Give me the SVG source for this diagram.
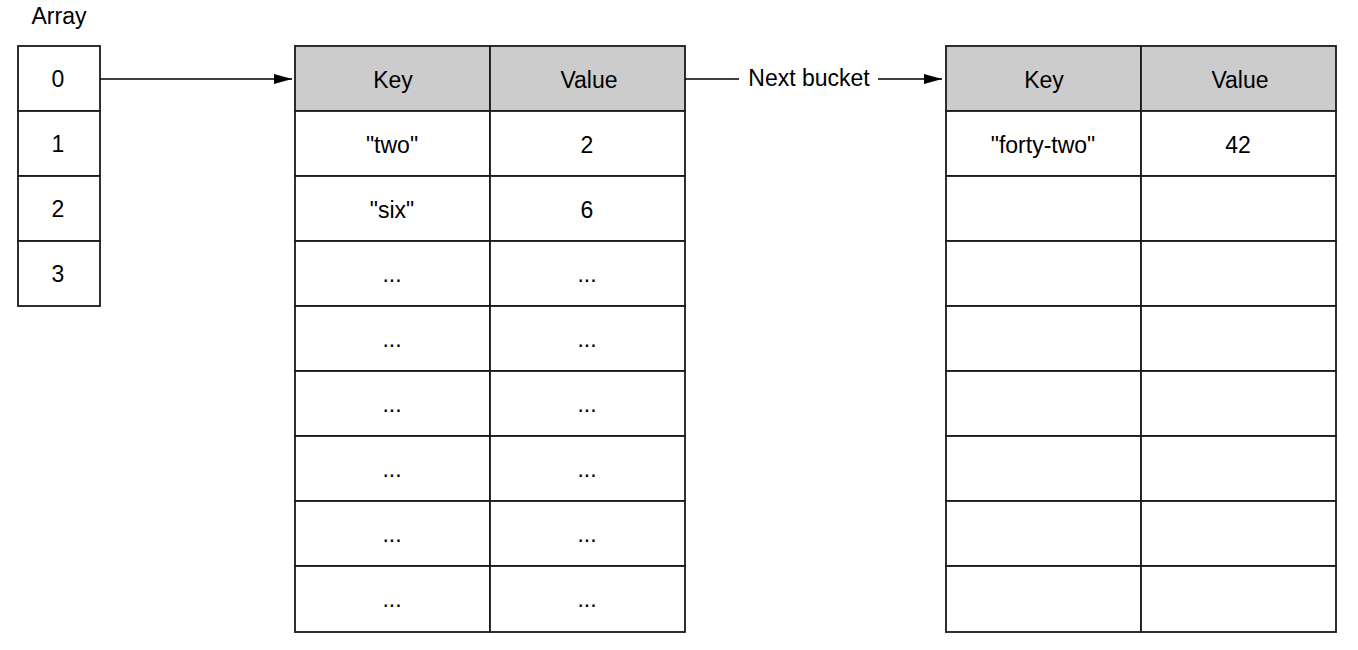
<svg xmlns="http://www.w3.org/2000/svg" width="1358" height="650" viewBox="0 0 1358 650">
<style>
.cell{fill:#ffffff;stroke:#1a1a1a;stroke-width:1.8}
.head{fill:#cccccc;stroke:#1a1a1a;stroke-width:1.8}
text{font-family:"Liberation Sans",Arial,sans-serif;font-size:23px;fill:#000;text-anchor:middle}
.conn{stroke:#000;stroke-width:1.4;fill:none}
</style>
<defs>
<marker id="ah" markerWidth="18" markerHeight="10" refX="18" refY="5" orient="auto" markerUnits="userSpaceOnUse">
<path d="M0,0 L18,5 L0,10 Z" fill="#000"/>
</marker>
</defs>
<text x="59" y="23.5">Array</text>
<g id="array">
<rect class="cell" x="18" y="46" width="82" height="65"/>
<rect class="cell" x="18" y="111" width="82" height="65"/>
<rect class="cell" x="18" y="176" width="82" height="65"/>
<rect class="cell" x="18" y="241" width="82" height="65"/>
<text x="58" y="87">0</text>
<text x="58" y="152">1</text>
<text x="58" y="217">2</text>
<text x="58" y="282">3</text>
</g>
<g id="bucket1">
<rect class="head" x="295" y="46" width="195" height="65"/>
<rect class="head" x="490" y="46" width="195" height="65"/>
<rect class="cell" x="295" y="111" width="195" height="65"/><rect class="cell" x="490" y="111" width="195" height="65"/>
<rect class="cell" x="295" y="176" width="195" height="65"/><rect class="cell" x="490" y="176" width="195" height="65"/>
<rect class="cell" x="295" y="241" width="195" height="65"/><rect class="cell" x="490" y="241" width="195" height="65"/>
<rect class="cell" x="295" y="306" width="195" height="65"/><rect class="cell" x="490" y="306" width="195" height="65"/>
<rect class="cell" x="295" y="371" width="195" height="65"/><rect class="cell" x="490" y="371" width="195" height="65"/>
<rect class="cell" x="295" y="436" width="195" height="65"/><rect class="cell" x="490" y="436" width="195" height="65"/>
<rect class="cell" x="295" y="501" width="195" height="65"/><rect class="cell" x="490" y="501" width="195" height="65"/>
<rect class="cell" x="295" y="566" width="195" height="66"/><rect class="cell" x="490" y="566" width="195" height="66"/>
<text x="393" y="88">Key</text>
<text x="589" y="88">Value</text>
<text x="392" y="152.5">"two"</text>
<text x="587" y="152.5">2</text>
<text x="392" y="217.5">"six"</text>
<text x="587" y="217.5">6</text>
<text x="392" y="282">...</text><text x="587" y="282">...</text>
<text x="392" y="347">...</text><text x="587" y="347">...</text>
<text x="392" y="412">...</text><text x="587" y="412">...</text>
<text x="392" y="477">...</text><text x="587" y="477">...</text>
<text x="392" y="542">...</text><text x="587" y="542">...</text>
<text x="392" y="607">...</text><text x="587" y="607">...</text>
</g>
<g id="bucket2">
<rect class="head" x="946" y="46" width="195" height="65"/>
<rect class="head" x="1141" y="46" width="195" height="65"/>
<rect class="cell" x="946" y="111" width="195" height="65"/><rect class="cell" x="1141" y="111" width="195" height="65"/>
<rect class="cell" x="946" y="176" width="195" height="65"/><rect class="cell" x="1141" y="176" width="195" height="65"/>
<rect class="cell" x="946" y="241" width="195" height="65"/><rect class="cell" x="1141" y="241" width="195" height="65"/>
<rect class="cell" x="946" y="306" width="195" height="65"/><rect class="cell" x="1141" y="306" width="195" height="65"/>
<rect class="cell" x="946" y="371" width="195" height="65"/><rect class="cell" x="1141" y="371" width="195" height="65"/>
<rect class="cell" x="946" y="436" width="195" height="65"/><rect class="cell" x="1141" y="436" width="195" height="65"/>
<rect class="cell" x="946" y="501" width="195" height="65"/><rect class="cell" x="1141" y="501" width="195" height="65"/>
<rect class="cell" x="946" y="566" width="195" height="66"/><rect class="cell" x="1141" y="566" width="195" height="66"/>
<text x="1044" y="88">Key</text>
<text x="1240" y="88">Value</text>
<text x="1043" y="152.5">"forty-two"</text>
<text x="1238" y="152.5">42</text>
</g>
<g id="connectors">
<line class="conn" x1="100" y1="79" x2="292" y2="79" marker-end="url(#ah)"/>
<line class="conn" x1="685" y1="79" x2="739" y2="79"/>
<text x="809" y="86">Next bucket</text>
<line class="conn" x1="878" y1="79" x2="942" y2="79" marker-end="url(#ah)"/>
</g>
</svg>
